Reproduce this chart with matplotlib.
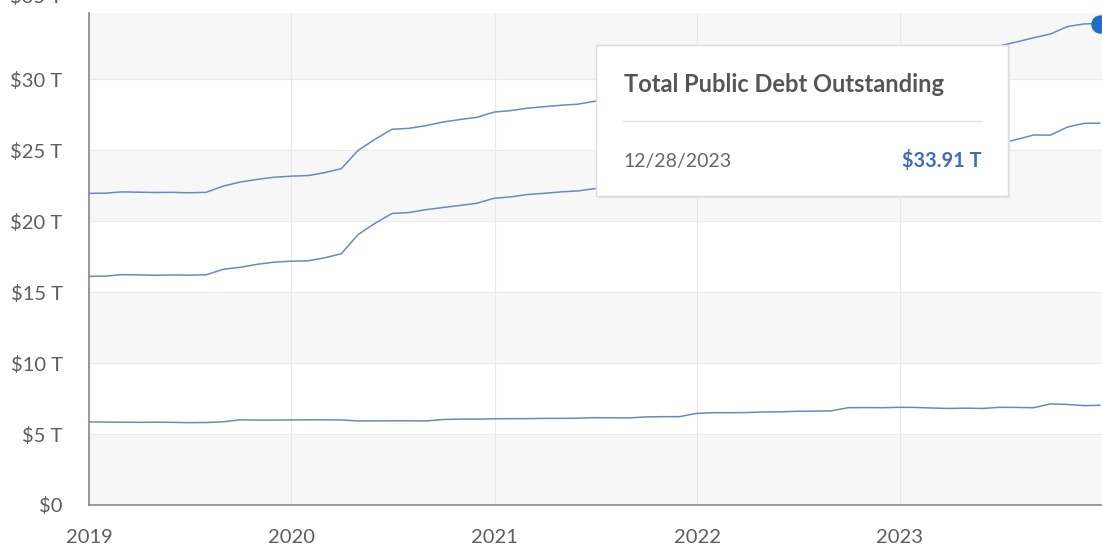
import matplotlib
matplotlib.use('Agg')
import matplotlib.pyplot as plt
import pandas as pd
from matplotlib.patches import Rectangle

# month-end dates from Dec 2018 to Nov 2023, then the last reading 12/28/2023
dates = list(pd.date_range('2018-12-31', '2023-11-30', freq='ME')) + [pd.Timestamp('2023-12-28')]

# total public debt outstanding, trillions
total_debt = [21.95,
              21.96, 22.05, 22.03, 22.01, 22.02, 21.99, 22.02, 22.46, 22.74, 22.93, 23.08, 23.16,
              23.20, 23.40, 23.69, 24.97, 25.77, 26.46, 26.53, 26.72, 26.97, 27.15, 27.30, 27.67,
              27.78, 27.94, 28.05, 28.15, 28.23, 28.43, 28.44, 28.41, 28.43, 28.92, 28.92, 29.62,
              30.00, 30.29, 30.40, 30.37, 30.50, 30.57, 30.61, 30.86, 30.93, 31.24, 31.41, 31.42,
              31.46, 31.46, 31.46, 31.46, 31.46, 32.33, 32.61, 32.91, 33.17, 33.70, 33.88, 33.91]

# debt held by the public
public_debt = [16.10,
               16.12, 16.22, 16.21, 16.18, 16.20, 16.19, 16.21, 16.60, 16.74, 16.95, 17.10, 17.17,
               17.20, 17.40, 17.70, 19.05, 19.85, 20.53, 20.60, 20.80, 20.95, 21.10, 21.25, 21.60,
               21.70, 21.86, 21.95, 22.05, 22.12, 22.28, 22.30, 22.28, 22.23, 22.70, 22.70, 23.17,
               23.50, 23.79, 23.89, 23.82, 23.94, 23.97, 24.00, 24.23, 24.08, 24.38, 24.56, 24.54,
               24.59, 24.63, 24.66, 24.64, 24.66, 25.45, 25.74, 26.06, 26.05, 26.62, 26.88, 26.89]

# intragovernmental holdings
intragov_debt = [5.85,
                 5.84, 5.83, 5.82, 5.83, 5.82, 5.80, 5.81, 5.86, 6.00, 5.98, 5.98, 5.99,
                 6.00, 6.00, 5.99, 5.92, 5.92, 5.93, 5.93, 5.92, 6.02, 6.05, 6.05, 6.07,
                 6.08, 6.08, 6.10, 6.10, 6.11, 6.15, 6.14, 6.13, 6.20, 6.22, 6.22, 6.45,
                 6.50, 6.50, 6.51, 6.55, 6.56, 6.60, 6.61, 6.63, 6.85, 6.86, 6.85, 6.88,
                 6.87, 6.83, 6.80, 6.82, 6.80, 6.88, 6.87, 6.85, 7.12, 7.08, 7.00, 7.02]

y_ticks = [0, 5, 10, 15, 20, 25, 30]
y_labels = ['$0', '$5 T', '$10 T', '$15 T', '$20 T', '$25 T', '$30 T']
year_ticks = ['2019', '2020', '2021', '2022', '2023']

tip_title = 'Total Public Debt Outstanding'
tip_date = '12/28/2023'
tip_value = '$33.91 T'

line_color = '#6d88c0'
label_color = '#5e5e5e'
font = ['Lato', 'DejaVu Sans']

fig = plt.figure(figsize=(11.02, 5.45), dpi=100)
ax = fig.add_axes([89 / 1102, 40 / 545, 1 - 89 / 1102, 492 / 545])

y_top = 34.65
# alternating background bands
for lo in range(0, 35, 10):
    ax.axhspan(lo, min(lo + 5, y_top), color='#f7f7f7', lw=0, zorder=0)
for y in y_ticks[1:]:
    ax.axhline(y, color='#ebebeb', lw=0.8, zorder=0.5)

ax.plot(dates, total_debt, color=line_color, lw=1.1, zorder=3)
ax.plot(dates, public_debt, color=line_color, lw=1.1, zorder=3)
ax.plot(dates, intragov_debt, color=line_color, lw=1.1, zorder=3)
ax.scatter([dates[-1]], [total_debt[-1]], s=150, color='#1d6ec7', zorder=4, clip_on=False)

ax.set_xlim(pd.Timestamp('2019-01-01'), pd.Timestamp('2024-01-01'))
ax.set_ylim(0, y_top)

ax.set_xticks([pd.Timestamp(y + '-01-01') for y in year_ticks])
ax.set_xticklabels(year_ticks)
ax.set_yticks(y_ticks)
ax.set_yticklabels(y_labels)
ax.grid(axis='x', color='#e8e8e8', lw=0.8, zorder=0.5)
ax.set_axisbelow(True)
ax.tick_params(axis='y', length=0, pad=19, labelsize=14.5, labelcolor=label_color)
ax.tick_params(axis='x', length=0, pad=17, labelsize=14.5, labelcolor=label_color)
for lab in ax.get_xticklabels() + ax.get_yticklabels():
    lab.set_family(font)

for s in ['top', 'right']:
    ax.spines[s].set_visible(False)
ax.spines['left'].set_color('#888888')
ax.spines['bottom'].set_color('#888888')
ax.spines['left'].set_linewidth(1.2)
ax.spines['bottom'].set_linewidth(1.2)

# cut-off $35 T label at the top edge of the screenshot
fig.text(62 / 1102, 1 + 3 / 545, '$35 T', ha='right', va='center', fontsize=14.5,
         color=label_color, family=font)

# tooltip box
x0, y0, w, h = 596 / 1102, 1 - 196 / 545, 412 / 1102, 151 / 545
fig.add_artist(Rectangle((x0 + 2 / 1102, y0 - 2 / 545), w, h, transform=fig.transFigure,
                         facecolor='#e4e4e4', edgecolor='none', zorder=9))
fig.add_artist(Rectangle((x0, y0), w, h, transform=fig.transFigure,
                         facecolor='white', edgecolor='#dddddd', lw=1, zorder=10))
fig.add_artist(plt.Line2D([623 / 1102, 982 / 1102], [1 - 121 / 545, 1 - 121 / 545],
                          transform=fig.transFigure, color='#e2e2e2', lw=1, zorder=11))
fig.text(624 / 1102, 1 - 84 / 545, tip_title, ha='left', va='center', fontsize=17,
         fontweight='bold', color='#555555', family=font, zorder=11)
fig.text(623 / 1102, 1 - 161 / 545, tip_date, ha='left', va='center', fontsize=14,
         color='#666666', family=font, zorder=11)
fig.text(981 / 1102, 1 - 161 / 545, tip_value, ha='right', va='center', fontsize=14.3,
         fontweight='bold', color='#3d6fb6', family=font, zorder=11)

fig.savefig('out.png', dpi=100)
